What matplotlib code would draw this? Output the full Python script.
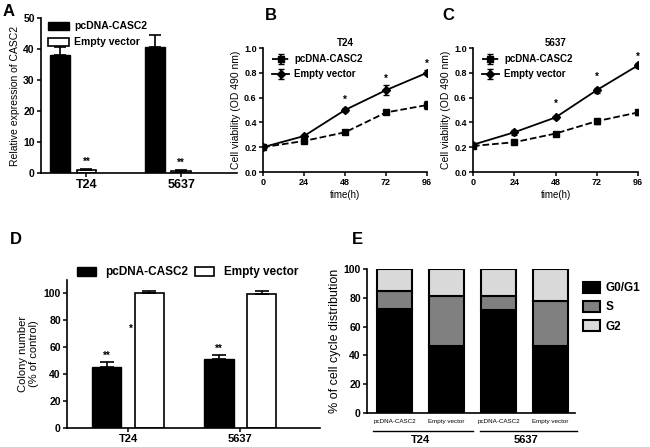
import matplotlib
matplotlib.use("Agg")
import matplotlib.pyplot as plt
import numpy as np
from matplotlib.patches import Patch
from matplotlib.lines import Line2D

plt.rcParams['font.family'] = ['Liberation Sans', 'DejaVu Sans']
plt.rcParams['font.weight'] = 'bold'
plt.rcParams['axes.linewidth'] = 1.2

# ---- data ----
groups = ['T24', '5637']
a_pcdna = [38, 40.5]
a_pcdna_err = [2.5, 4]
a_empty = [1.0, 0.8]
a_empty_err = [0.3, 0.3]

hours = [0, 24, 48, 72, 96]
b_pcdna = [0.20, 0.25, 0.32, 0.48, 0.54]
b_pcdna_err = [0.01, 0.01, 0.01, 0.01, 0.03]
b_empty = [0.20, 0.29, 0.50, 0.66, 0.80]
b_empty_err = [0.01, 0.01, 0.02, 0.04, 0.02]
b_stars = [0.58, 0.75, 0.87]

c_pcdna = [0.21, 0.24, 0.31, 0.41, 0.48]
c_pcdna_err = [0.01, 0.01, 0.01, 0.02, 0.02]
c_empty = [0.22, 0.32, 0.44, 0.66, 0.86]
c_empty_err = [0.01, 0.02, 0.01, 0.02, 0.02]
c_stars = [0.55, 0.77, 0.93]

d_pcdna = [45, 51]
d_pcdna_err = [4, 3]
d_empty = [100, 99.5]
d_empty_err = [2, 2.5]

e_labels = ['pcDNA-CASC2', 'Empty vector', 'pcDNA-CASC2', 'Empty vector']
e_g1 = [72, 46.5, 71.5, 46.5]
e_s = [13, 35, 10, 31.5]
e_g2 = [15, 18.5, 18.5, 22]

W, H = 650, 447
fig = plt.figure(figsize=(W / 100, H / 100), dpi=100)


def px_axes(l, t, r, b):
    ax = fig.add_axes([l / W, 1 - b / H, (r - l) / W, (b - t) / H])
    ax.spines['top'].set_visible(False)
    ax.spines['right'].set_visible(False)
    ax.tick_params(labelsize=7.5, width=1.1, length=3, pad=1.5)
    return ax


def up_err(v):
    return [np.zeros(len(v)), v]


# ---- A ----
ax = px_axes(41, 18, 237, 173)
xa = np.array([0, 1])
w = 0.21
ax.bar(xa - 0.14, a_pcdna, w, color='black', edgecolor='black',
       yerr=up_err(a_pcdna_err), capsize=4, error_kw=dict(lw=1.2, capthick=1.2))
ax.bar(xa + 0.14, a_empty, w, color='white', edgecolor='black', lw=1.2,
       yerr=up_err(a_empty_err), capsize=4, error_kw=dict(lw=1.2, capthick=1.2))
for i in range(2):
    ax.text(xa[i] + 0.14, a_empty[i] + 1, '**', ha='center', va='bottom', fontsize=7)
ax.set_xlim(-0.34, 1.73)
ax.set_ylim(0, 50)
ax.set_yticks([0, 10, 20, 30, 40, 50])
ax.set_xticks(xa + 0.14)
ax.set_xticklabels(groups, fontsize=9)
ax.set_ylabel('Relative expression of CASC2', fontsize=7.5, labelpad=2)
ax.legend(handles=[Patch(fc='black', ec='black', label='pcDNA-CASC2'),
                   Patch(fc='white', ec='black', lw=1.2, label='Empty vector')],
          loc='upper left', bbox_to_anchor=(-0.01, 1.04), frameon=False, fontsize=7.5,
          handlelength=2.0, handleheight=0.8, labelspacing=0.6, handletextpad=0.5)
fig.text(3 / W, 1 - 12 / H, 'A', fontsize=12, va='center')


# ---- B and C ----
def line_panel(l, r, pc, pce, em, eme, stars, title, letter, lx):
    ax = px_axes(l, 48, r, 172)
    ax.errorbar(hours, pc, yerr=pce, color='black', ls='--', lw=1.3, marker='s',
                ms=4.5, capsize=2, label='pcDNA-CASC2')
    ax.errorbar(hours, em, yerr=eme, color='black', ls='-', lw=1.3, marker='D',
                ms=4, capsize=2, label='Empty vector')
    for x, y in zip(hours[2:], stars):
        ax.text(x, y, '*', ha='center', va='center', fontsize=7)
    ax.set_xlim(0, 96)
    ax.set_ylim(0, 1.0)
    ax.set_xticks(hours)
    ax.set_yticks([0, 0.2, 0.4, 0.6, 0.8, 1.0])
    ax.set_yticklabels(['0.0', '0.2', '0.4', '0.6', '0.8', '1.0'])
    ax.tick_params(labelsize=6.5)
    ax.spines['left'].set_bounds(0, 1.0)
    ax.set_xlabel('time(h)', fontsize=7, labelpad=2)
    ax.set_ylabel('Cell viability (OD 490 nm)', fontsize=7.5, labelpad=2)
    ax.text(48, 1.0, title, ha='center', va='bottom', fontsize=7)
    ax.legend(loc='upper left', bbox_to_anchor=(0.0, 1.02), frameon=False,
              fontsize=7, handlelength=1.8, labelspacing=0.5, handletextpad=0.5)
    fig.text(lx / W, 1 - 16 / H, letter, fontsize=12, va='center')


line_panel(263, 427, b_pcdna, b_pcdna_err, b_empty, b_empty_err, b_stars, 'T24', 'B', 265)
line_panel(473, 638, c_pcdna, c_pcdna_err, c_empty, c_empty_err, c_stars, '5637', 'C', 442)

# ---- D ----
ax = px_axes(67, 280, 320, 428)
xd = np.array([0, 1])
w = 0.26
ax.bar(xd - 0.19, d_pcdna, w, color='black', edgecolor='black',
       yerr=up_err(d_pcdna_err), capsize=5, error_kw=dict(lw=1.2, capthick=1.2))
ax.bar(xd + 0.19, d_empty, w, color='white', edgecolor='black', lw=1.2,
       yerr=up_err(d_empty_err), capsize=5, error_kw=dict(lw=1.2, capthick=1.2))
for i in range(2):
    ax.text(xd[i] - 0.19, d_pcdna[i] + d_pcdna_err[i] + 1, '**', ha='center',
            va='bottom', fontsize=7)
ax.text(0.02, 74, '*', ha='center', va='center', fontsize=7)
ax.set_xlim(-0.545, 1.71)
ax.set_ylim(0, 110)
ax.set_yticks([0, 20, 40, 60, 80, 100])
ax.set_xticks(xd)
ax.set_xticklabels(groups, fontsize=8)
ax.set_ylabel('Colony number\n(% of control)', fontsize=8, labelpad=3)
ax.legend(handles=[Patch(fc='black', ec='black', label='pcDNA-CASC2'),
                   Patch(fc='white', ec='black', lw=1.2, label='Empty vector')],
          loc='lower left', bbox_to_anchor=(0.02, 0.98), frameon=False, fontsize=8.5,
          ncol=2, handlelength=1.6, handleheight=0.8, columnspacing=0.6,
          borderaxespad=0)
fig.text(10 / W, 1 - 240 / H, 'D', fontsize=12, va='center')

# ---- E ----
ax = px_axes(367, 269, 575, 413)
xe = np.arange(4)
w = 0.67
ax.bar(xe, e_g1, w, color='black', edgecolor='black', lw=1.5, label='G0/G1')
ax.bar(xe, e_s, w, bottom=e_g1, color='#808080', edgecolor='black', lw=1.5, label='S')
ax.bar(xe, e_g2, w, bottom=np.add(e_g1, e_s), color='#d9d9d9', edgecolor='black',
       lw=1.5, label='G2')
ax.set_xlim(-0.53, 3.47)
ax.set_ylim(0, 100)
ax.set_yticks([0, 20, 40, 60, 80, 100])
ax.set_xticks(xe)
ax.set_xticklabels(e_labels, fontsize=4.5, fontweight='normal')
ax.tick_params(axis='x', length=0, pad=4)
ax.set_ylabel('% of cell cycle distribution', fontsize=9, fontweight='normal',
              labelpad=2)
ax.legend(loc='upper left', bbox_to_anchor=(1.0, 0.97), frameon=False, fontsize=8.5,
          handlelength=1.4, handleheight=1.1, labelspacing=0.55, handletextpad=0.5,
          borderaxespad=0.3)
for x0, x1, lab in [(-0.42, 1.5, 'T24'), (1.65, 3.5, '5637')]:
    ax.add_line(Line2D([x0, x1], [-0.125, -0.125], transform=ax.get_xaxis_transform(),
                       color='black', lw=1.0, clip_on=False))
    ax.text((x0 + x1) / 2 - 0.05, -0.19, lab, transform=ax.get_xaxis_transform(),
            ha='center', va='center', fontsize=8)
fig.text(352 / W, 1 - 240 / H, 'E', fontsize=12, va='center')

fig.savefig('out.png', dpi=100)
